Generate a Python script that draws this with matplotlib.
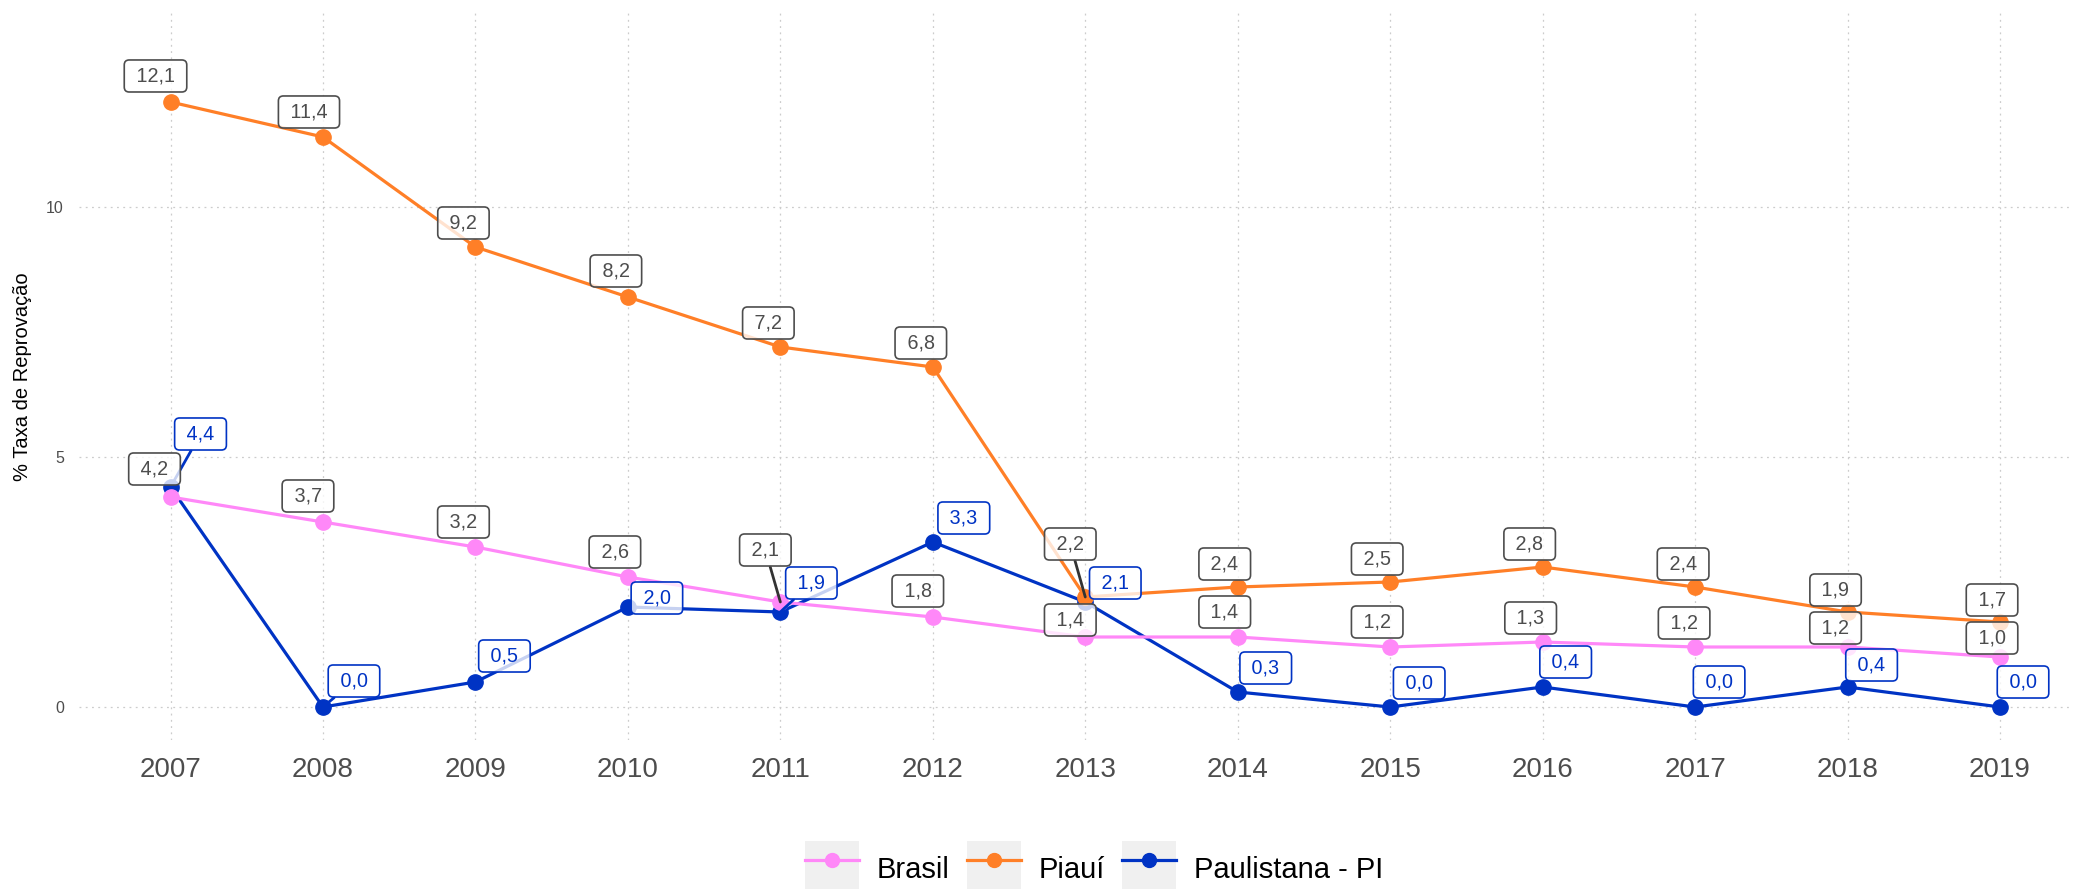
import matplotlib
matplotlib.use("Agg")
import matplotlib.pyplot as plt
from matplotlib.legend_handler import HandlerLine2D
from matplotlib.lines import Line2D
from matplotlib.patches import Rectangle
import math

plt.rcParams["font.family"] = ["Liberation Sans", "DejaVu Sans"]

YEARS = list(range(2007, 2020))
BRASIL = [4.2, 3.7, 3.2, 2.6, 2.1, 1.8, 1.4, 1.4, 1.2, 1.3, 1.2, 1.2, 1.0]
PIAUI = [12.1, 11.4, 9.2, 8.2, 7.2, 6.8, 2.2, 2.4, 2.5, 2.8, 2.4, 1.9, 1.7]
PAULISTANA = [4.4, 0.0, 0.5, 2.0, 1.9, 3.3, 2.1, 0.3, 0.0, 0.4, 0.0, 0.4, 0.0]
SERIES_NAMES = ["Brasil", "Piauí", "Paulistana - PI"]
Y_TICKS = [0, 5, 10]

# label offsets (pixels) away from each point, repel-style
BRASIL_OFFSETS = [(-16, 28), (-15, 26), (-12, 25), (-13, 25), (-15, 52), (-15, 26), (-15, 17),
                  (-13, 25), (-13, 25), (-12, 24), (-11, 24), (-12, 19), (-8, 19)]
PIAUI_OFFSETS = [(-15, 26), (-14, 25), (-12, 24), (-12, 26), (-12, 24), (-12, 24), (-15, 53),
                 (-13, 23), (-13, 23), (-13, 23), (-12, 23), (-12, 22), (-8, 22)]
PAULISTANA_OFFSETS = [(30, 53), (31, 26), (29, 26), (29, 9), (31, 29), (31, 24), (30, 19),
                      (28, 24), (29, 24), (23, 25), (24, 25), (24, 22), (23, 25)]

COLORS = {"Brasil": "#ff88f8", "Piauí": "#ff7f27", "Paulistana - PI": "#0033c4"}
LABEL_TEXT = {"Brasil": "#4d4d4d", "Piauí": "#4d4d4d", "Paulistana - PI": "#0033c4"}


class KeyBackground(HandlerLine2D):
    """Line+point legend key on a light grey square."""

    def create_artists(self, legend, orig_handle, xdescent, ydescent, width, height, fontsize, trans):
        bg = Rectangle((-xdescent, -ydescent), width, height, facecolor="#f0f0f0",
                       edgecolor="none", transform=trans)
        arts = super().create_artists(legend, orig_handle, xdescent, ydescent, width, height, fontsize, trans)
        return [bg] + list(arts)


def fmt(v):
    # padded with spaces so the box is wider than it is tall
    return " " + f"{v:.1f}".replace(".", ",") + " "


fig = plt.figure(figsize=(20.8, 8.89), dpi=100)
ax = fig.add_axes([0.038, 0.1676, 0.958, 0.8178])

series = {"Brasil": BRASIL, "Piauí": PIAUI, "Paulistana - PI": PAULISTANA}
offsets = {"Brasil": BRASIL_OFFSETS, "Piauí": PIAUI_OFFSETS, "Paulistana - PI": PAULISTANA_OFFSETS}
draw_order = ["Paulistana - PI", "Brasil", "Piauí"]

for name in draw_order:
    ax.plot(YEARS, series[name], color=COLORS[name], lw=2.3, zorder=2, solid_capstyle="round")
for name in draw_order:
    ax.plot(YEARS, series[name], ls="none", marker="o", ms=11, color=COLORS[name], zorder=3)

for name in draw_order:
    col = LABEL_TEXT[name]
    for x, y, (dx, dy) in zip(YEARS, series[name], offsets[name]):
        arrow = None
        if math.hypot(dx, dy) > 40:
            seg_col = "#333333" if name != "Paulistana - PI" else COLORS[name]
            arrow = dict(arrowstyle="-", color=seg_col, lw=2.0, shrinkA=0, shrinkB=0)
        ax.annotate(fmt(y), xy=(x, y), xytext=(dx, dy), textcoords="offset pixels",
                    ha="center", va="center", fontsize=14.2, color=col, zorder=5,
                    bbox=dict(boxstyle="round,pad=0.33,rounding_size=0.25", facecolor=(1, 1, 1, 0.78),
                              edgecolor=col, linewidth=1.2),
                    arrowprops=arrow)

ax.set_xlim(2006.40, 2019.47)
ax.set_ylim(-0.66, 13.88)
ax.set_xticks(YEARS)
ax.set_xticklabels([str(y) for y in YEARS], fontsize=20, color="#4d4d4d")
ax.set_yticks(Y_TICKS)
ax.set_yticklabels([str(t) for t in Y_TICKS], fontsize=11.5, color="#4d4d4d")
ax.tick_params(axis="both", length=0)
ax.tick_params(axis="x", pad=12)
ax.tick_params(axis="y", pad=11)
ax.grid(True, color="#cccccc", lw=0.9, linestyle=(0, (1.5, 3.5)))
ax.set_axisbelow(True)
for sp in ax.spines.values():
    sp.set_visible(False)
ax.set_ylabel("% Taxa de Reprovação", fontsize=14.5, labelpad=10)

handles = [Line2D([], [], color=COLORS[n], lw=2.3, marker="o", ms=10) for n in SERIES_NAMES]
handler = KeyBackground(marker_pad=0.12)
fig.legend(handles, SERIES_NAMES, loc="center", bbox_to_anchor=(0.526, 0.022), ncol=3,
           frameon=False, fontsize=21, handlelength=1.85, handleheight=2.6,
           handletextpad=0.6, columnspacing=0.6,
           handler_map={h: handler for h in handles})

fig.savefig("out.png", dpi=100)
